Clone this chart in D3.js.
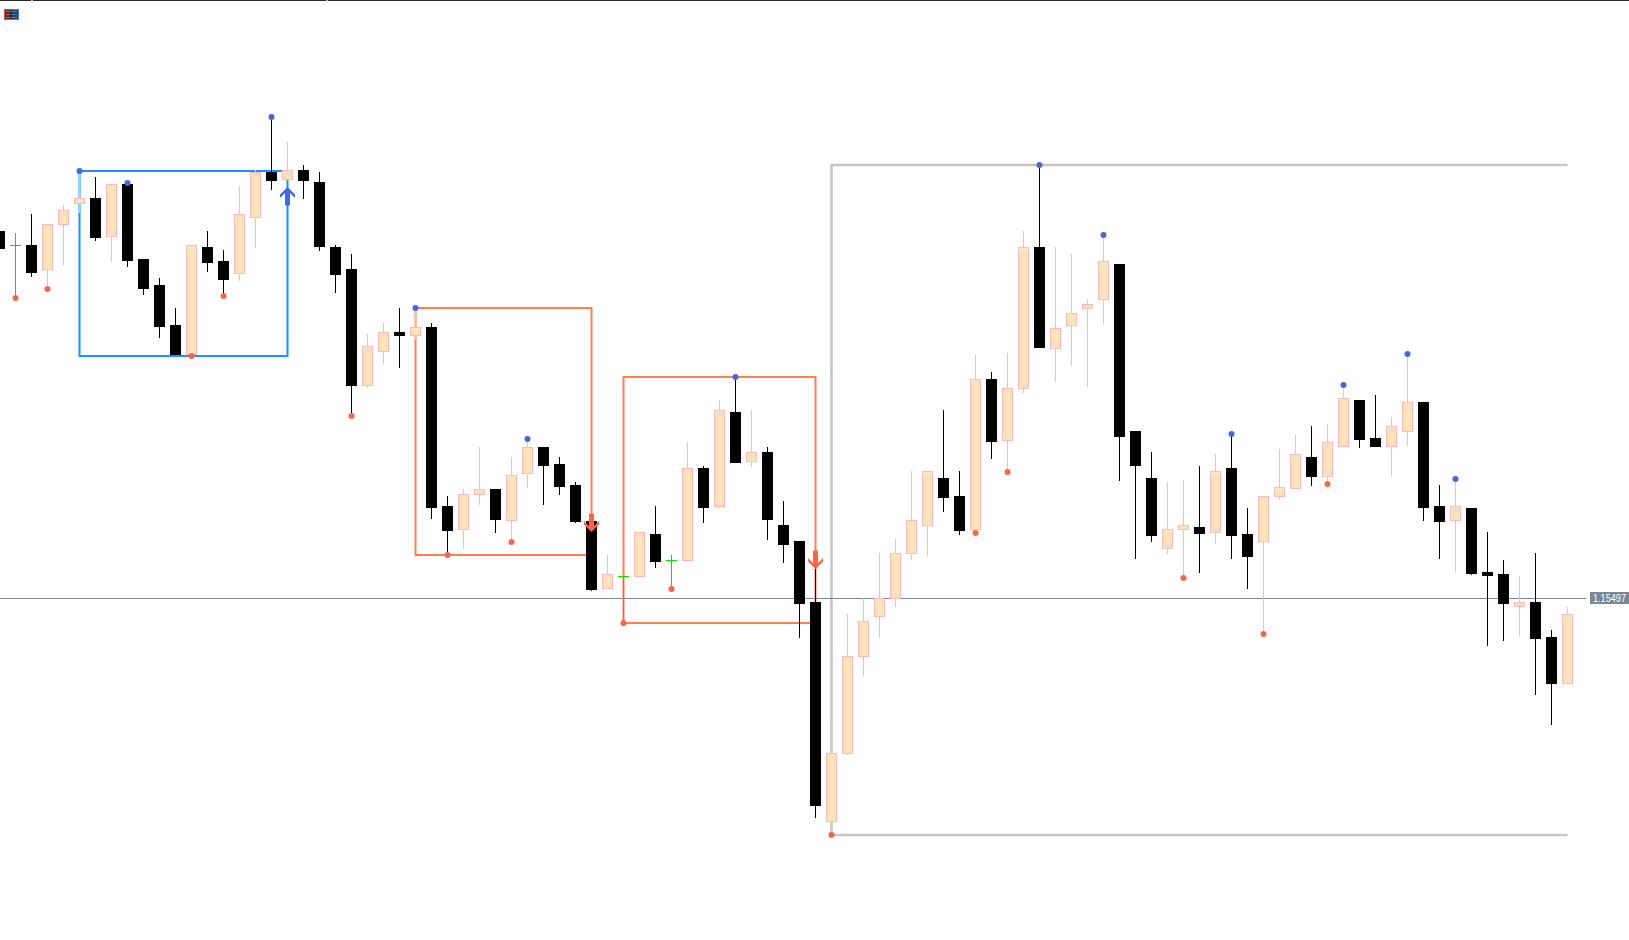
<!DOCTYPE html>
<html>
<head>
<meta charset="utf-8">
<script src="https://cdn.jsdelivr.net/npm/d3@7"></script>
<style>
  html, body { margin: 0; padding: 0; background: #fff; overflow: hidden; }
</style>
</head>
<body>
<div id="app"></div>
<script>
// candles, index 0..98 (left to right)
const opens = [
  1.15864,1.15850,1.15850,1.15825,1.15870,1.15891,1.15897,1.15858,1.15911,1.15836,
  1.15810,1.15770,1.15740,1.15848,1.15834,1.15821,1.15877,1.15923,1.15915,1.15925,
  1.15913,1.15848,1.15826,1.15709,1.15743,1.15763,1.15759,1.15768,1.15589,1.15565,
  1.15600,1.15606,1.15574,1.15621,1.15648,1.15631,1.15610,1.15574,1.15506,1.15519,
  1.15518,1.15561,1.15535,1.15534,1.15627,1.15588,1.15683,1.15633,1.15643,1.15570,
  1.15554,1.15493,1.15273,1.15341,1.15438,1.15478,1.15496,1.15541,1.15569,1.15617,
  1.15599,1.15565,1.15716,1.15654,1.15706,1.15848,1.15746,1.15769,1.15786,1.15795,
  1.15831,1.15664,1.15617,1.15546,1.15565,1.15568,1.15562,1.15627,1.15561,1.15553,
  1.15598,1.15606,1.15638,1.15618,1.15648,1.15695,1.15657,1.15648,1.15663,1.15693,
  1.15589,1.15574,1.15587,1.15523,1.15521,1.15488,1.15493,1.15458,1.15411
]
const highs = [
  1.15864,1.15862,1.15881,1.15871,1.15890,1.15924,1.15918,1.15911,1.15912,1.15836,
  1.15817,1.15787,1.15850,1.15864,1.15845,1.15909,1.15925,1.15978,1.15953,1.15930,
  1.15923,1.15850,1.15841,1.15761,1.15772,1.15787,1.15787,1.15772,1.15599,1.15606,
  1.15648,1.15606,1.15638,1.15656,1.15648,1.15638,1.15613,1.15575,1.15540,1.15519,
  1.15563,1.15589,1.15540,1.15653,1.15629,1.15695,1.15718,1.15685,1.15648,1.15594,
  1.15554,1.15526,1.15378,1.15481,1.15497,1.15542,1.15556,1.15624,1.15624,1.15685,
  1.15624,1.15740,1.15723,1.15742,1.15864,1.15930,1.15848,1.15841,1.15796,1.15860,
  1.15831,1.15664,1.15643,1.15613,1.15615,1.15629,1.15641,1.15661,1.15587,1.15599,
  1.15646,1.15660,1.15669,1.15671,1.15710,1.15695,1.15700,1.15678,1.15741,1.15693,
  1.15610,1.15616,1.15587,1.15563,1.15535,1.15519,1.15542,1.15465,1.15488
]
const lows = [
  1.15846,1.15797,1.15818,1.15806,1.15830,1.15882,1.15854,1.15833,1.15828,1.15800,
  1.15757,1.15740,1.15739,1.15823,1.15799,1.15814,1.15847,1.15905,1.15915,1.15896,
  1.15844,1.15802,1.15679,1.15707,1.15731,1.15727,1.15755,1.15576,1.15540,1.15546,
  1.15590,1.15562,1.15553,1.15607,1.15590,1.15600,1.15572,1.15504,1.15506,1.15472,
  1.15518,1.15527,1.15506,1.15534,1.15572,1.15587,1.15632,1.15628,1.15555,1.15532,
  1.15457,1.15277,1.15260,1.15340,1.15419,1.15457,1.15488,1.15535,1.15539,1.15583,
  1.15560,1.15562,1.15636,1.15623,1.15702,1.15747,1.15713,1.15729,1.15708,1.15771,
  1.15614,1.15536,1.15553,1.15541,1.15517,1.15522,1.15551,1.15536,1.15506,1.15461,
  1.15595,1.15606,1.15609,1.15611,1.15648,1.15647,1.15648,1.15619,1.15649,1.15574,
  1.15536,1.15523,1.15520,1.15449,1.15454,1.15459,1.15400,1.15370,1.15411
]
const closes = [
  1.15846,1.15850,1.15822,1.15871,1.15885,1.15897,1.15857,1.15911,1.15834,1.15806,
  1.15768,1.15740,1.15850,1.15832,1.15815,1.15881,1.15923,1.15914,1.15925,1.15914,
  1.15848,1.15820,1.15709,1.15749,1.15763,1.15759,1.15768,1.15587,1.15564,1.15601,
  1.15606,1.15575,1.15620,1.15648,1.15629,1.15608,1.15573,1.15505,1.15521,1.15519,
  1.15563,1.15533,1.15535,1.15627,1.15587,1.15685,1.15632,1.15643,1.15575,1.15550,
  1.15491,1.15289,1.15342,1.15439,1.15474,1.15497,1.15542,1.15575,1.15624,1.15597,
  1.15564,1.15716,1.15653,1.15707,1.15848,1.15747,1.15767,1.15782,1.15791,1.15834,
  1.15658,1.15629,1.15559,1.15566,1.15570,1.15561,1.15624,1.15559,1.15538,1.15599,
  1.15608,1.15641,1.15618,1.15653,1.15697,1.15655,1.15648,1.15669,1.15693,1.15587,
  1.15573,1.15589,1.15521,1.15519,1.15491,1.15493,1.15456,1.15411,1.15481
]

// swing markers
const swingHighs = [5, 8, 17, 26, 33, 46, 65, 69, 77, 84, 88, 91]
const swingLows = [1, 3, 12, 14, 22, 28, 32, 39, 42, 52, 61, 63, 74, 79, 83]

// ranges: [from index, to index, top price, bottom price, kind]
const boxes = [
  [5, 18, 1.15924, 1.15739, 'blue'],
  [26, 37, 1.15787, 1.15540, 'orange'],
  [39, 51, 1.15718, 1.15472, 'orange'],
  [52, 98, 1.15930, 1.15260, 'gray']
]

// breakout arrows: [index, tip price, direction]
const signals = [
  [18, 1.15908, 'up'],
  [37, 1.15563, 'down'],
  [51, 1.15526, 'down']
]

const lastPrice = 1.15497

const width = 1629
const height = 940

const x = d3.scaleLinear().domain([0, 98]).range([-0.5, 1567.5])
const y = d3.scaleLinear().domain([1.16095, 1.15155]).range([0, 940])
const py = p => Math.round(y(p))

const colors = {
  blue: '#1e90ff',
  orange: '#ff7f50',
  gray: '#c4c4c4'
}

const svg = d3.create('svg')
  .attr('width', width)
  .attr('height', height)
  .attr('viewBox', [0, 0, width, height])
  .style('display', 'block')
  .style('font-family', '"Liberation Sans", Arial, sans-serif')

// top strip + icon
svg.append('rect').attr('x', 0).attr('y', 0).attr('width', width).attr('height', 1).attr('fill', '#2b2b2b')
svg.append('rect').attr('x', 31).attr('y', 0).attr('width', 2).attr('height', 1).attr('fill', '#bbb')
svg.append('rect').attr('x', 326).attr('y', 0).attr('width', 2).attr('height', 1).attr('fill', '#bbb')

const icon = svg.append('g')
icon.append('rect').attr('x', 4).attr('y', 9).attr('width', 8).attr('height', 11).attr('fill', '#f04545')
icon.append('rect').attr('x', 11).attr('y', 9).attr('width', 8).attr('height', 11).attr('fill', '#3385ff')
icon.append('rect').attr('x', 5).attr('y', 10).attr('width', 13).attr('height', 9).attr('fill', '#3a3a3a')
;[11, 14, 17].forEach(v => {
  icon.append('rect').attr('x', 6).attr('y', v).attr('width', 4).attr('height', 1).attr('fill', '#f04545')
  icon.append('rect').attr('x', 12).attr('y', v).attr('width', 5).attr('height', 1).attr('fill', '#3385ff')
})

// boxes (behind candles)
const boxG = svg.append('g').attr('fill', 'none')
boxes.forEach(([a, b, top, bot, kind]) => {
  const x0 = x(a), x1 = x(b), y0 = py(top), y1 = py(bot)
  const path = kind === 'gray'
    ? `M${x1},${y0}L${x0},${y0}L${x0},${y1}L${x1},${y1}`
    : `M${x0},${y0}L${x1},${y0}L${x1},${y1}L${x0},${y1}Z`
  boxG.append('path')
    .attr('d', path)
    .attr('stroke', colors[kind])
    .attr('stroke-width', kind === 'gray' ? 2.5 : 2)
})

// last price line
const lp = py(lastPrice) + 0.5
svg.append('line')
  .attr('x1', 0).attr('x2', 1586)
  .attr('y1', lp).attr('y2', lp)
  .attr('stroke', '#778899').attr('stroke-width', 1)

// candles
const idx = d3.range(opens.length)
const isDoji = i => opens[i] === closes[i]
const isUp = i => closes[i] > opens[i]

const candleG = svg.append('g')

candleG.selectAll('line.wick')
  .data(idx.filter(i => !isDoji(i)))
  .join('line')
  .attr('class', 'wick')
  .attr('x1', i => x(i)).attr('x2', i => x(i))
  .attr('y1', i => py(highs[i])).attr('y2', i => py(lows[i]))
  .attr('stroke', i => isUp(i) ? '#ffb6c1' : '#000')
  .attr('stroke-width', 1)

candleG.selectAll('rect.down')
  .data(idx.filter(i => !isDoji(i) && !isUp(i)))
  .join('rect')
  .attr('class', 'down')
  .attr('x', i => x(i) - 5.5)
  .attr('y', i => py(opens[i]))
  .attr('width', 11)
  .attr('height', i => Math.max(1, py(closes[i]) - py(opens[i])))
  .attr('fill', '#000')

candleG.selectAll('rect.up')
  .data(idx.filter(i => isUp(i)))
  .join('rect')
  .attr('class', 'up')
  .attr('x', i => x(i) - 5)
  .attr('y', i => py(closes[i]) + 0.5)
  .attr('width', 10)
  .attr('height', i => Math.max(1, py(opens[i]) - py(closes[i]) - 1))
  .attr('fill', '#ffe4b5')
  .attr('stroke', '#ffb6c1')
  .attr('stroke-width', 1)

const dojiG = candleG.selectAll('g.doji')
  .data(idx.filter(isDoji))
  .join('g')
  .attr('class', 'doji')
  .attr('stroke', '#00e600')
  .attr('stroke-width', 1)
dojiG.append('line')
  .attr('x1', i => x(i)).attr('x2', i => x(i))
  .attr('y1', i => py(highs[i])).attr('y2', i => py(lows[i]))
dojiG.append('line')
  .attr('x1', i => x(i) - 5.5).attr('x2', i => x(i) + 5.5)
  .attr('y1', i => py(opens[i]) + 0.5).attr('y2', i => py(opens[i]) + 0.5)

// swing dots
svg.append('g').selectAll('circle')
  .data(swingHighs)
  .join('circle')
  .attr('cx', i => x(i)).attr('cy', i => py(highs[i]))
  .attr('r', 3)
  .attr('fill', '#4169e1')

svg.append('g').selectAll('circle')
  .data(swingLows)
  .join('circle')
  .attr('cx', i => x(i)).attr('cy', i => py(lows[i]))
  .attr('r', 3)
  .attr('fill', '#ff6347')

// arrows
const arrowPath = 'M0,0L7.5,7.5L7.5,11L2.5,6L2.5,18.5L-2.5,18.5L-2.5,6L-7.5,11L-7.5,7.5Z'
svg.append('g').selectAll('path')
  .data(signals)
  .join('path')
  .attr('d', arrowPath)
  .attr('transform', d => `translate(${x(d[0])},${py(d[1])})` + (d[2] === 'down' ? ' scale(1,-1)' : ''))
  .attr('fill', d => d[2] === 'up' ? '#4169e1' : '#ff6347')

// price label
svg.append('rect')
  .attr('x', 1590).attr('y', lp - 6.5)
  .attr('width', 39).attr('height', 12)
  .attr('fill', '#778899')
svg.append('text')
  .attr('x', 1593).attr('y', lp + 3.5)
  .attr('font-size', 10)
  .attr('textLength', 33)
  .attr('lengthAdjust', 'spacingAndGlyphs')
  .attr('fill', '#fff')
  .text(lastPrice.toFixed(5))

d3.select('#app').append(() => svg.node())
</script>
</body>
</html>
